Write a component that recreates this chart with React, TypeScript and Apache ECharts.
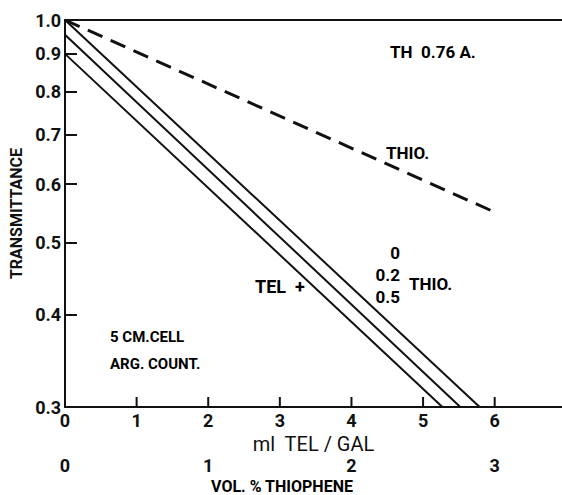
import React, { useEffect, useRef } from "react";
import * as echarts from "echarts";

// x values in ml TEL / GAL, y values = transmittance
const thioDashed: [number, number][] = [[0, 1.0], [6.0, 0.55]];
const tel0Thio: [number, number][] = [[0, 1.0], [5.79, 0.3]];
const tel02Thio: [number, number][] = [[0, 0.955], [5.52, 0.3]];
const tel05Thio: [number, number][] = [[0, 0.9], [5.27, 0.3]];

const yTicks = [0.3, 0.4, 0.5, 0.6, 0.7, 0.8, 0.9, 1.0];
const xTicks = [0, 1, 2, 3, 4, 5, 6];
const volTicks = [0, 1, 2, 3];
const yMin = 0.3;

const FONT = "Roboto, 'Liberation Sans', sans-serif";

const lg = (v: number) => Math.log10(v);
const toLog = (pts: [number, number][]) => pts.map(([x, y]) => [x, lg(y)]);

export default function App() {
  const ref = useRef<HTMLDivElement>(null);
  useEffect(() => {
    if (!ref.current) return;
    const chart = echarts.init(ref.current, null, { renderer: "svg" });
    const txt = { fontFamily: FONT, fontWeight: "bold" as const, color: "#111" };
    chart.setOption({
      animation: false,
      backgroundColor: "#fff",
      grid: [
        { left: 65, right: -3, top: 20, bottom: 88, containLabel: false },
        { left: 65, right: -3, top: 452, height: 1, containLabel: false },
      ],
      xAxis: [
        {
          type: "value",
          gridIndex: 0,
          min: 0,
          max: 6.94,
          interval: 1,
          position: "bottom",
          axisLine: { show: true, onZero: false, lineStyle: { color: "#111", width: 2 } },
          axisTick: { show: false },
          axisLabel: {
            ...txt,
            fontSize: 18,
            margin: 4,
            customValues: xTicks,
            formatter: (v: number) => String(v),
          },
          splitLine: { show: false },
          name: "ml  TEL / GAL",
          nameLocation: "middle",
          nameGap: 21,
          nameTextStyle: { ...txt, fontSize: 20, fontWeight: "normal" },
        },
        {
          type: "value",
          gridIndex: 1,
          min: 0,
          max: 3.47,
          interval: 1,
          position: "bottom",
          axisLine: { show: false, onZero: false },
          axisTick: { show: false },
          axisLabel: {
            ...txt,
            fontSize: 18,
            margin: 3,
            customValues: volTicks,
            formatter: (v: number) => String(v),
          },
          splitLine: { show: false },
        },
        {
          // top frame line
          type: "value",
          gridIndex: 0,
          min: 0,
          max: 6.94,
          position: "top",
          axisLine: { show: true, onZero: false, lineStyle: { color: "#111", width: 2 } },
          axisTick: { show: false },
          axisLabel: { show: false },
          splitLine: { show: false },
        },
      ],
      yAxis: [
        {
          type: "value",
          gridIndex: 0,
          min: lg(yMin),
          max: 0,
          axisLine: { show: true, onZero: false, lineStyle: { color: "#111", width: 2 } },
          axisTick: {
            show: true,
            inside: true,
            length: 12,
            lineStyle: { color: "#111", width: 2 },
            customValues: yTicks.map(lg),
          },
          axisLabel: {
            ...txt,
            fontSize: 18,
            margin: 4,
            customValues: yTicks.map(lg),
            formatter: (v: number) => Math.pow(10, v).toFixed(1),
          },
          splitLine: { show: false },
          name: "TRANSMITTANCE",
          nameLocation: "middle",
          nameGap: 33,
          nameTextStyle: { ...txt, fontSize: 16 },
        },
        { type: "value", gridIndex: 1, show: false },
      ],
      series: [
        {
          type: "line",
          data: toLog(thioDashed),
          symbol: "none",
          lineStyle: { color: "#111", width: 3, type: [16, 9] },
        },
        { type: "line", data: toLog(tel0Thio), symbol: "none", lineStyle: { color: "#111", width: 2 } },
        { type: "line", data: toLog(tel02Thio), symbol: "none", lineStyle: { color: "#111", width: 2 } },
        { type: "line", data: toLog(tel05Thio), symbol: "none", lineStyle: { color: "#111", width: 2 } },
        {
          // x-axis tick marks pointing into the plot, placed through the axis scales
          type: "custom",
          xAxisIndex: 0,
          yAxisIndex: 0,
          silent: true,
          z: 5,
          data: xTicks.filter((x) => x > 0).map((x) => [x, lg(yMin)]),
          renderItem: (params: any, api: any) => {
            const p = api.coord([api.value(0), api.value(1)]);
            return {
              type: "line",
              shape: { x1: p[0], y1: p[1], x2: p[0], y2: p[1] - 10 },
              style: { stroke: "#111", lineWidth: 2 },
            };
          },
        },
      ],
      graphic: [
        { type: "text", x: 390, y: 52, style: { ...txt, text: "TH  0.76 A.", fontSize: 17, verticalAlign: "middle" } },
        { type: "text", x: 386, y: 153, style: { ...txt, text: "THIO.", fontSize: 17, verticalAlign: "middle" } },
        { type: "text", x: 400, y: 253, style: { ...txt, text: "0", fontSize: 17, align: "right", verticalAlign: "middle" } },
        { type: "text", x: 400, y: 275, style: { ...txt, text: "0.2", fontSize: 17, align: "right", verticalAlign: "middle" } },
        { type: "text", x: 400, y: 297, style: { ...txt, text: "0.5", fontSize: 17, align: "right", verticalAlign: "middle" } },
        { type: "text", x: 409, y: 284, style: { ...txt, text: "THIO.", fontSize: 17, verticalAlign: "middle" } },
        { type: "text", x: 255, y: 286, style: { ...txt, text: "TEL  +", fontSize: 18, verticalAlign: "middle" } },
        { type: "text", x: 110, y: 337, style: { ...txt, text: "5 CM.CELL", fontSize: 15, verticalAlign: "middle" } },
        { type: "text", x: 110, y: 364, style: { ...txt, text: "ARG. COUNT.", fontSize: 15, verticalAlign: "middle" } },
        { type: "text", x: 282, y: 486, style: { ...txt, text: "VOL. % THIOPHENE", fontSize: 16, align: "center", verticalAlign: "middle" } },
      ],
    });
    return () => chart.dispose();
  }, []);
  return <div ref={ref} style={{ width: 562, height: 495, position: "absolute", left: 0, top: 0 }} />;
}
